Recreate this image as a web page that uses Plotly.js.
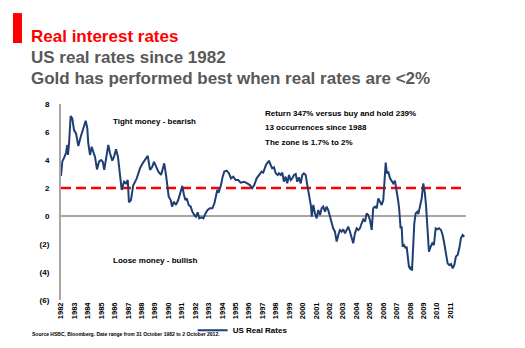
<!DOCTYPE html>
<html><head><meta charset="utf-8">
<script src="https://cdn.plot.ly/plotly-3.0.1.min.js"></script>
<style>html,body{margin:0;padding:0;background:#fff;}#chart{width:525px;height:348px;}</style>
</head><body><div id="chart"></div>
<script>
const dates = [
1982.83,1982.93,1983.08,1983.20,1983.30,1983.35,1983.43,1983.55,1983.67,1983.80,1983.95,1984.12,1984.30,1984.49,1984.67,1984.79,1984.86,1984.99,1985.12,1985.19,1985.36,1985.51,1985.66,1985.81,1985.94,1986.05,1986.23,1986.35,1986.48,1986.65,1986.78,1986.93,1987.07,1987.17,1987.35,1987.52,1987.67,1987.80,1987.89,1988.04,1988.21,1988.47,1988.71,1988.91,1989.14,1989.29,1989.46,1989.63,1989.75,1989.90,1990.08,1990.28,1990.40,1990.52,
1990.65,1990.75,1990.85,1991.00,1991.10,1991.24,1991.39,1991.56,1991.74,1991.86,1991.99,1992.09,1992.19,1992.34,1992.49,1992.61,1992.76,1992.88,1993.01,1993.13,1993.31,1993.43,1993.60,1993.75,1993.92,1994.10,1994.25,1994.37,1994.47,1994.59,1994.74,1994.87,1994.99,1995.17,1995.34,1995.49,1995.66,1995.84,1996.03,1996.21,1996.46,1996.70,1996.90,1997.07,1997.22,1997.40,1997.60,1997.77,1997.89,1998.09,1998.27,1998.32,
1998.44,1998.56,1998.69,1998.82,1998.97,1999.06,1999.19,1999.31,1999.43,1999.56,1999.68,1999.81,1999.93,2000.05,2000.18,2000.31,2000.42,2000.55,2000.68,2000.80,2000.92,2001.05,2001.17,2001.30,2001.37,2001.45,2001.50,2001.62,2001.74,2001.87,2001.99,2002.12,2002.24,2002.36,2002.49,2002.61,2002.73,2002.86,2002.99,2003.10,2003.23,2003.36,2003.48,2003.60,2003.73,2003.85,2003.98,2004.10,2004.22,2004.35,2004.48,2004.59,2004.72,2004.85,2004.97,2005.09,2005.22,2005.34,
2005.47,2005.59,2005.71,2005.84,2005.97,2006.08,2006.21,2006.34,2006.46,2006.58,2006.71,2006.83,2006.90,2007.01,2007.10,2007.20,2007.33,2007.45,2007.57,2007.70,2007.83,2007.95,2008.02,2008.12,2008.20,2008.27,2008.37,2008.50,2008.57,2008.65,2008.74,2008.82,2008.89,2008.97,2009.06,2009.14,2009.24,2009.36,2009.44,2009.56,2009.69,2009.81,2009.93,2010.01,2010.14,2010.23,2010.36,2010.48,2010.60,2010.73,2010.85,2010.98,2011.13,2011.25,2011.37,2011.50,2011.62,2011.74,2011.87,2012.00,2012.12,2012.24,2012.37,2012.49,2012.61,2012.74,2012.86
];
const realRates = [
2.86,3.9,4.2,4.5,5.07,4.36,5.2,7.14,6.98,6.14,5.9,5.0,5.66,6.26,6.8,6.26,5.2,4.36,4.95,4.7,4.24,3.33,3.88,4.0,3.88,3.29,4.48,5.07,4.48,3.95,4.24,4.76,4.24,3.29,1.86,2.45,2.33,2.57,0.98,1.14,2.2,2.69,3.4,3.76,4.05,4.3,3.29,3.52,3.88,3.52,3.17,2.93,3.4,3.76,
2.93,2.1,1.38,1.14,0.67,1.02,0.79,1.14,1.74,2.14,1.5,1.14,1.26,0.79,0.67,0.31,0.07,-0.05,0.26,-0.17,-0.1,-0.17,0.19,0.43,0.55,0.55,0.9,1.38,1.86,1.74,2.2,2.81,3.17,3.24,3.05,2.69,2.81,2.57,2.57,2.38,2.45,2.33,2.21,1.98,2.21,2.69,2.93,3.17,3.1,3.64,3.88,3.95,
3.64,3.4,3.48,3.05,2.93,3.05,2.93,3.1,2.45,2.81,2.33,2.93,2.57,2.69,2.93,3.0,2.45,2.76,2.33,2.93,3.05,2.93,2.21,1.38,1.02,0.67,-0.05,0.79,0.19,-0.17,0.43,0.07,0.55,0.67,0.31,0.67,0.43,-0.05,-0.4,-0.88,-1.12,-1.83,-1.36,-1.0,-1.12,-0.95,-1.24,-1.0,-0.76,-1.12,-1.48,-1.95,-1.24,-0.88,-1.0,-0.88,-0.52,-0.24,
-0.4,0.19,0.07,-0.29,-1.0,0.55,0.67,0.55,1.26,1.02,0.79,1.14,2.57,3.81,3.05,3.17,2.69,2.45,2.33,2.52,1.86,1.02,0.43,-0.88,-0.76,-2.19,-2.07,-2.31,-2.19,-3.02,-3.62,-3.74,-3.62,-3.9,-2.43,-0.52,0.19,0.31,0.14,0.79,1.26,2.33,1.62,0.79,-1.24,-2.55,-2.19,-1.95,-2.07,-0.88,-0.95,-0.88,-1.0,-1.36,-1.95,-2.79,-3.38,-3.5,-3.43,-3.74,-3.5,-2.9,-2.79,-2.31,-1.6,-1.36,-1.48
];
const yearLabels = ["1982","1983","1984","1985","1986","1987","1988","1989","1990","1991","1992","1993","1994","1995","1996","1997","1998","1999","2000","2001","2002","2003","2004","2005","2006","2007","2008","2009","2010","2011"];
const yTickValues = [-6,-4,-2,0,2,4,6,8];
const yTickLabels = ["(6)","(4)","(2)","0","2","4","6","8"];
const zoneLevel = 2;
const seriesName = "US Real Rates";

const xTickVals = yearLabels.map((_, i) => dates[0] + i);
const FONT = "Liberation Sans, Arial, sans-serif";
const GREY = "#595959";

const data = [{
  type: "scatter", mode: "lines", name: seriesName,
  x: dates, y: realRates,
  line: {color: "#1f3f74", width: 2},
  showlegend: true, hoverinfo: "skip"
}];

function ann(text, x, y, size, color, opts) {
  return Object.assign({text, x, y, xref: "paper", yref: "paper", showarrow: false,
    xanchor: "left", yanchor: "middle",
    font: {family: FONT, size, color, weight: "bold"}}, opts || {});
}

const layout = {
  width: 525, height: 348,
  margin: {l: 61, r: 59, t: 104, b: 48, autoexpand: false},
  paper_bgcolor: "#fff", plot_bgcolor: "#fff",
  font: {family: FONT, color: "#000"},
  xaxis: {
    range: [dates[0], 2012.99], tickmode: "array", tickvals: xTickVals, ticktext: yearLabels,
    tickangle: -90, showgrid: false, zeroline: false, showline: false, ticks: "", automargin: false,
    tickfont: {family: FONT, size: 7.5, color: "#000", weight: "bold"}
  },
  yaxis: {
    range: [-6, 8], tickmode: "array", tickvals: yTickValues, ticktext: yTickLabels,
    showgrid: false, zeroline: true, zerolinecolor: "#a6a6a6", zerolinewidth: 2,
    showline: true, linecolor: "#a6a6a6", linewidth: 2, ticks: "", automargin: false,
    ticklabelstandoff: 8,
    tickfont: {family: FONT, size: 8, color: "#000", weight: "bold"}
  },
  shapes: [
    {type: "line", xref: "paper", yref: "y", x0: 0, x1: 0.995, y0: zoneLevel, y1: zoneLevel,
     line: {color: "#ff0000", width: 2.5, dash: "10px,5px"}, layer: "below"},
    {type: "rect", xref: "paper", yref: "paper", x0: -0.1185, x1: -0.0963, y0: 1.311, y1: 1.464,
     fillcolor: "#ff0000", line: {width: 0}}
  ],
  legend: {orientation: "h", x: 0.325, y: -0.08, xanchor: "left", yanchor: "top",
    font: {family: FONT, size: 8, color: "#000", weight: "bold"}, bgcolor: "rgba(0,0,0,0)"},
  annotations: [
    ann("Real interest rates", -0.078, 1.342, 17, "#ff0000"),
    ann("US real rates since 1982", -0.078, 1.235, 17, GREY),
    ann("Gold has performed best when real rates are <2%", -0.078, 1.128, 17, GREY),
    ann("Tight money - bearish", 0.1235, 0.913, 8, "#000"),
    ann("Loose money - bullish", 0.1235, 0.199, 8, "#000"),
    ann("Return 347% versus buy and hold 239%", 0.4988, 0.954, 8, "#000"),
    ann("13 occurrences since 1988", 0.4988, 0.881, 8, "#000"),
    ann("The zone is 1.7% to 2%", 0.4988, 0.805, 8, "#000"),
    ann("Source HSBC, Bloomberg. Date range from 31 October 1982 to 2 October 2012.", -0.0765, -0.173, 5, "#000")
  ]
};

Plotly.newPlot("chart", data, layout, {staticPlot: true, displayModeBar: false});
</script>
</body></html>
